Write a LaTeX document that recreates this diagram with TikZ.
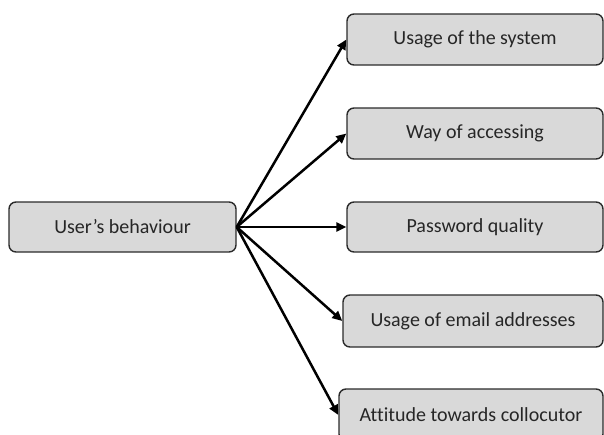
\documentclass[tikz,border=0pt]{standalone}
\usepackage{fontspec}
\setmainfont[Ligatures=NoCommon]{Carlito}
\usetikzlibrary{arrows.meta}
\definecolor{boxfill}{HTML}{D9D9D9}
\definecolor{boxline}{HTML}{2B2B2B}
\begin{document}
\begin{tikzpicture}[x=1pt,y=1pt,
  tbox/.style={draw=boxline,line width=1.4pt,fill=boxfill,rounded corners=7pt,
    inner sep=0pt,align=center,font=\fontsize{20pt}{23pt}\selectfont,text=black!85},
  conn/.style={line width=2.5pt,-{Triangle[length=10pt,width=9pt]}}]
\useasboundingbox (0,0) rectangle (604,-434);
\node[tbox,minimum width=227pt,minimum height=50pt] (src) at (122.5,-227) {User’s behaviour};
\node[tbox,minimum width=256pt,minimum height=51pt] (t1) at (475,-39.5) {Usage of the system};
\node[tbox,minimum width=256pt,minimum height=51pt] (t2) at (475,-133.5) {Way of accessing};
\node[tbox,minimum width=256pt,minimum height=50pt] (t3) at (475,-227) {Password quality};
\node[tbox,minimum width=260pt,minimum height=52pt] (t4) at (473,-321) {Usage of email addresses};
\node[tbox,minimum width=264pt,minimum height=52pt] (t5) at (471,-415) {Attitude towards collocutor};
\coordinate (o) at (src.east);
\foreach \t in {t1,t2,t3,t4,t5}{\draw[conn] (o) -- (\t.west);}
\end{tikzpicture}
\end{document}
